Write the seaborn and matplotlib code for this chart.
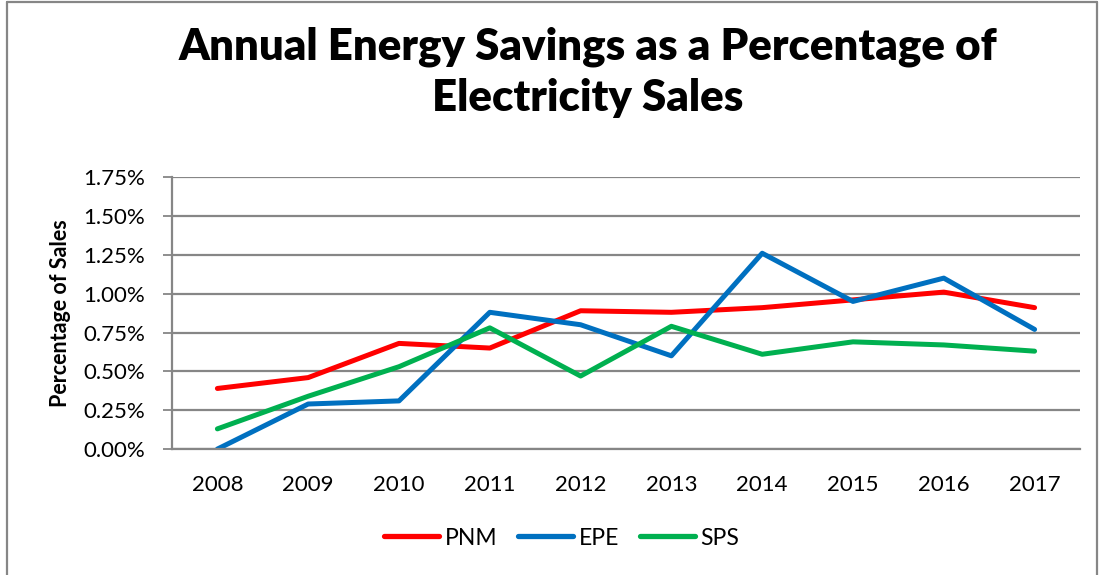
import matplotlib
matplotlib.use("Agg")
import matplotlib.pyplot as plt
import matplotlib.lines as mlines
from matplotlib.ticker import FuncFormatter, FixedLocator
import seaborn as sns
import pandas as pd

years = [2008, 2009, 2010, 2011, 2012, 2013, 2014, 2015, 2016, 2017]
pnm = [0.39, 0.46, 0.68, 0.65, 0.89, 0.88, 0.91, 0.96, 1.01, 0.91]
epe = [0.00, 0.29, 0.31, 0.88, 0.80, 0.60, 1.26, 0.95, 1.10, 0.77]
sps = [0.13, 0.34, 0.53, 0.78, 0.47, 0.79, 0.61, 0.69, 0.67, 0.63]
series_names = ["PNM", "EPE", "SPS"]
colors = ["#FF0000", "#0070C0", "#00B050"]
yticks = [0.0, 0.25, 0.5, 0.75, 1.0, 1.25, 1.5, 1.75]

rows = []
for name, vals in zip(series_names, [pnm, epe, sps]):
    for i, (y, v) in enumerate(zip(years, vals)):
        rows.append({"idx": i, "Year": y, "Series": name, "Value": v})
df = pd.DataFrame(rows)

sns.set_theme(style="white")
plt.rcParams["font.family"] = ["Lato", "DejaVu Sans"]
plt.rcParams["text.color"] = "black"
plt.rcParams["axes.labelcolor"] = "black"
plt.rcParams["xtick.color"] = "black"
plt.rcParams["ytick.color"] = "black"

fig = plt.figure(figsize=(10.99, 5.75), dpi=100)
ax = fig.add_axes([0.1565, 0.219, 0.8262, 0.473])

sns.lineplot(data=df, x="idx", y="Value", hue="Series", hue_order=series_names,
             palette=colors, linewidth=3.6, ax=ax, legend=True,
             solid_capstyle="round", solid_joinstyle="round")

ax.set_xlim(-0.5, len(years) - 0.5)
ax.set_ylim(0, 1.75)
ax.yaxis.set_major_locator(FixedLocator(yticks))
ax.yaxis.set_major_formatter(FuncFormatter(lambda v, p: f"{v:.2f}%"))
ax.set_xticks(range(len(years)))
ax.set_xticklabels([str(y) for y in years])
ax.grid(axis="y", color="#868686", linewidth=1.6)
ax.set_axisbelow(True)
for s in ["top", "right"]:
    ax.spines[s].set_visible(False)
for s in ["left", "bottom"]:
    ax.spines[s].set_color("#868686")
    ax.spines[s].set_linewidth(1.6)
ax.tick_params(axis="y", which="major", length=6.5, width=1.3, color="#868686",
               labelcolor="black", left=True, labelsize=16, pad=13)
ax.tick_params(axis="x", length=0, labelsize=16, pad=19, labelcolor="black")
ax.set_xlabel("")
ax.set_ylabel("Percentage of Sales", fontsize=15.5, fontweight="bold", labelpad=9,
              color="black")

leg = ax.legend(loc="center", bbox_to_anchor=(0.429, -0.327), ncol=3,
                frameon=False, fontsize=16.5, handlelength=2.4, handletextpad=0.25,
                columnspacing=0.9)
for h in leg.get_lines():
    h.set_linewidth(3.8)
    h.set_solid_capstyle("round")
for t in leg.get_texts():
    t.set_color("black")

fig.text(0.5346, 0.874, "Annual Energy Savings as a Percentage of\nElectricity Sales",
         ha="center", va="center", fontsize=31.5, fontweight="heavy", linespacing=1.32,
         color="black")

# outer chart frame (top, left, right edges)
fcol = "#868686"
fig.add_artist(mlines.Line2D([0.0065, 0.0065], [0.0, 0.9965], transform=fig.transFigure,
                             color=fcol, linewidth=1.6))
fig.add_artist(mlines.Line2D([0.0065, 0.998], [0.9965, 0.9965], transform=fig.transFigure,
                             color=fcol, linewidth=1.6))
fig.add_artist(mlines.Line2D([0.998, 0.998], [0.0, 0.9965], transform=fig.transFigure,
                             color=fcol, linewidth=1.6))

fig.savefig("out.png", dpi=100)
